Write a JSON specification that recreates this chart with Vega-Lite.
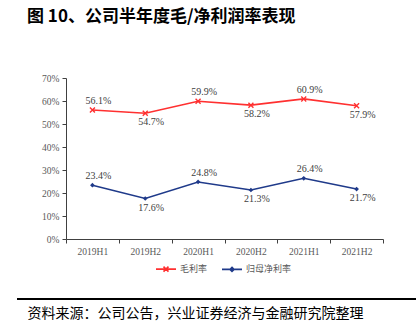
{
  "$schema": "https://vega.github.io/schema/vega-lite/v6.json",
  "width": 317,
  "height": 161,
  "autosize": {"type": "none"},
  "padding": {"left": 66, "top": 78, "right": 33, "bottom": 89},
  "background": "white",
  "title": {
    "text": "图 10、公司半年度毛/净利润率表现",
    "anchor": "start",
    "frame": "group",
    "dx": -39,
    "offset": 47,
    "font": "Noto Sans CJK SC",
    "fontSize": 17,
    "fontWeight": "bold",
    "color": "#000000"
  },
  "config": {
    "view": {"stroke": null},
    "axis": {
      "labelFont": "Liberation Serif",
      "labelFontSize": 9.5,
      "labelColor": "#595959",
      "domainColor": "#404040",
      "tickColor": "#404040",
      "tickSize": 4,
      "grid": false
    }
  },
  "data": {
    "values": [
      {"period": "2019H1", "series": "毛利率", "value": 0.561},
      {"period": "2019H2", "series": "毛利率", "value": 0.547},
      {"period": "2020H1", "series": "毛利率", "value": 0.599},
      {"period": "2020H2", "series": "毛利率", "value": 0.582},
      {"period": "2021H1", "series": "毛利率", "value": 0.609},
      {"period": "2021H2", "series": "毛利率", "value": 0.579},
      {"period": "2019H1", "series": "归母净利率", "value": 0.234},
      {"period": "2019H2", "series": "归母净利率", "value": 0.176},
      {"period": "2020H1", "series": "归母净利率", "value": 0.248},
      {"period": "2020H2", "series": "归母净利率", "value": 0.213},
      {"period": "2021H1", "series": "归母净利率", "value": 0.264},
      {"period": "2021H2", "series": "归母净利率", "value": 0.217}
    ]
  },
  "encoding": {
    "x": {
      "field": "period",
      "type": "nominal",
      "sort": null,
      "scale": {"type": "band", "paddingInner": 0, "paddingOuter": 0},
      "axis": {
        "labelAngle": 0,
        "tickBand": "extent",
        "labelPadding": 3,
        "title": "资料来源：公司公告，兴业证券经济与金融研究院整理",
        "titleFont": "Noto Sans CJK SC",
        "titleFontSize": 14,
        "titleFontWeight": "normal",
        "titleColor": "#000000",
        "titleAnchor": "start",
        "titleAlign": "left",
        "titleBaseline": "middle",
        "titleX": -39,
        "titleY": 74
      }
    },
    "y": {
      "field": "value",
      "type": "quantitative",
      "scale": {"domain": [0, 0.7], "nice": false},
      "axis": {"format": ".0%", "values": [0, 0.1, 0.2, 0.3, 0.4, 0.5, 0.6, 0.7], "title": null, "labelPadding": 3}
    }
  },
  "layer": [
    {
      "mark": {"type": "rule", "color": "#000000", "strokeWidth": 1},
      "encoding": {
        "x": {"value": -49},
        "x2": {"value": 350},
        "y": {"value": 221}
      }
    },
    {
      "mark": {"type": "line", "strokeWidth": 1.6},
      "encoding": {
        "color": {
          "field": "series",
          "type": "nominal",
          "sort": null,
          "scale": {"domain": ["毛利率", "归母净利率"], "range": ["#FF3030", "#1F3A8A"]},
          "legend": {
            "title": null,
            "orient": "none",
            "direction": "horizontal",
            "legendX": 89,
            "legendY": 180,
            "symbolSize": 400,
            "symbolStrokeWidth": 1.6,
            "labelFont": "Noto Sans CJK SC",
            "labelFontSize": 9,
            "labelColor": "#595959",
            "labelOffset": 3,
            "columnPadding": 10,
            "encode": {
              "symbols": {
                "enter": {
                  "shape": {"signal": "datum.value === '毛利率' ? 'M-1,0H1M-0.25,-0.25L0.25,0.25M-0.25,0.25L0.25,-0.25' : 'M-1,0H1M0,-0.2L0.2,0L0,0.2L-0.2,0Z'"}
                },
                "update": {
                  "shape": {"signal": "datum.value === '毛利率' ? 'M-1,0H1M-0.25,-0.25L0.25,0.25M-0.25,0.25L0.25,-0.25' : 'M-1,0H1M0,-0.2L0.2,0L0,0.2L-0.2,0Z'"}
                }
              }
            }
          }
        }
      }
    },
    {
      "transform": [{"filter": "datum.series === '毛利率'"}],
      "mark": {"type": "point", "filled": false, "shape": "M-1,-1L1,1M-1,1L1,-1", "size": 25, "strokeWidth": 1.4, "color": "#FF3030", "opacity": 1}
    },
    {
      "transform": [{"filter": "datum.series === '归母净利率'"}],
      "mark": {"type": "point", "filled": true, "shape": "diamond", "size": 22, "color": "#1F3A8A", "opacity": 1}
    },
    {
      "transform": [{"filter": "indexof(datum.period, 'H1') >= 0"}],
      "mark": {"type": "text", "dy": -9, "dx": 6, "baseline": "middle", "font": "Liberation Serif", "fontSize": 10, "color": "#404040"},
      "encoding": {"text": {"field": "value", "format": ".1%"}}
    },
    {
      "transform": [{"filter": "indexof(datum.period, 'H2') >= 0"}],
      "mark": {"type": "text", "dy": 9, "dx": 6, "baseline": "middle", "font": "Liberation Serif", "fontSize": 10, "color": "#404040"},
      "encoding": {"text": {"field": "value", "format": ".1%"}}
    }
  ]
}
